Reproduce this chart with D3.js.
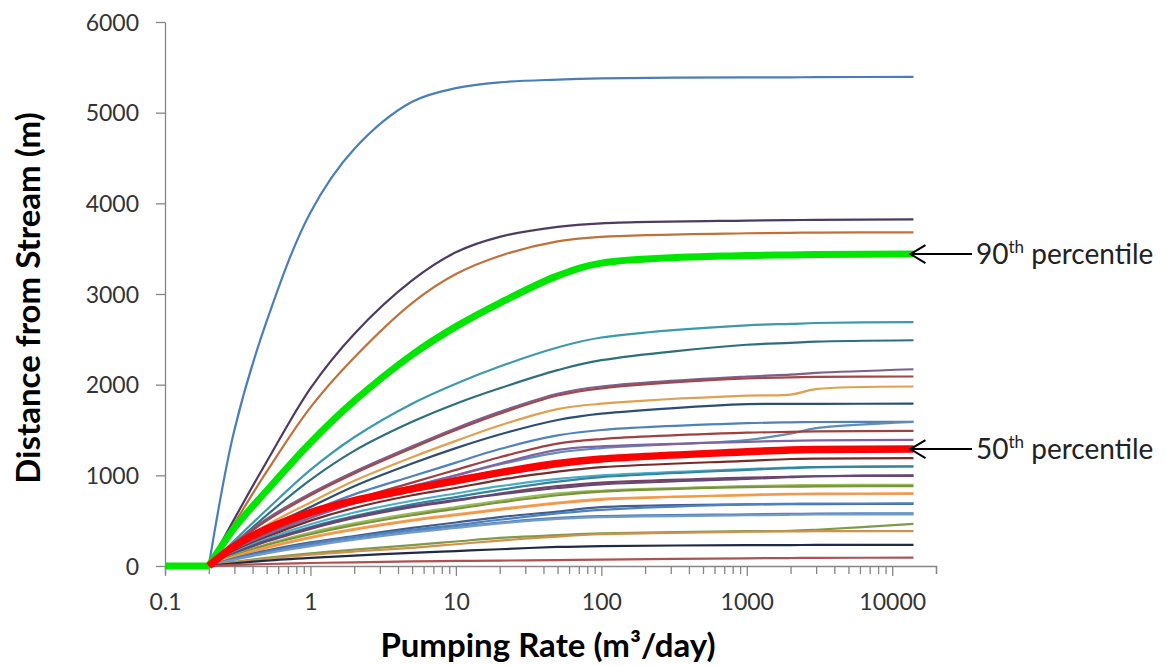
<!DOCTYPE html>
<html>
<head>
<meta charset="utf-8">
<script src="https://cdn.jsdelivr.net/npm/d3@7"></script>
<style>
  html, body { margin: 0; padding: 0; background: #fff; }
  svg { display: block; }
  text { font-family: Lato, "Open Sans", sans-serif; }
</style>
</head>
<body>
<svg id="chart" width="1165" height="666"></svg>
<script>
// ---------- DATA ----------
const pumpingRates = [0.1, 0.2, 0.3, 0.5, 1, 2, 5, 10, 20, 50, 100, 1000, 2000, 3000, 14000];

const s01 = [null, 0, 1500, 2700, 3900, 4600, 5120, 5270, 5335, 5365, 5378, 5390, 5390, 5392, 5395];
const s02 = [null, 0, 520, 1150, 1960, 2560, 3150, 3460, 3630, 3740, 3780, 3810, 3815, 3818, 3822];
const s03 = [null, 0, 470, 1040, 1750, 2300, 2900, 3220, 3420, 3580, 3630, 3670, 3675, 3678, 3680];
const s04 = [null, 0, 280, 620, 1060, 1420, 1790, 2010, 2200, 2410, 2520, 2655, 2670, 2680, 2690];
const s05 = [null, 0, 250, 560, 950, 1270, 1590, 1790, 1960, 2160, 2270, 2440, 2460, 2475, 2490];
const s06 = [null, 0, 250, 520, 800, 1040, 1320, 1520, 1700, 1900, 1980, 2090, 2110, 2130, 2170];
const s07 = [null, 0, 240, 500, 780, 1020, 1300, 1500, 1680, 1880, 1960, 2070, 2080, 2085, 2090];
const s08 = [null, 0, 210, 450, 700, 940, 1200, 1380, 1550, 1730, 1790, 1880, 1890, 1950, 1980];
const s09 = [null, 0, 200, 420, 650, 880, 1130, 1300, 1450, 1610, 1680, 1785, 1788, 1789, 1790];
const s10 = [null, 0, 190, 380, 600, 790, 990, 1140, 1290, 1440, 1500, 1575, 1585, 1588, 1590];
const s11 = [null, 0, 170, 340, 540, 700, 880, 1000, 1120, 1250, 1300, 1390, 1460, 1520, 1590];
const s12 = [null, 0, 180, 360, 560, 730, 920, 1060, 1200, 1350, 1400, 1470, 1480, 1485, 1490];
const s13 = [null, 0, 170, 340, 530, 690, 870, 1000, 1130, 1280, 1320, 1370, 1380, 1385, 1390];
const s14 = [null, 0, 160, 320, 500, 640, 780, 860, 950, 1040, 1090, 1160, 1180, 1185, 1190];
const s15 = [null, 0, 150, 300, 460, 590, 720, 800, 880, 960, 1000, 1070, 1085, 1090, 1095];
const s16 = [null, 0, 140, 280, 430, 550, 680, 760, 840, 930, 980, 1060, 1080, 1090, 1100];
const s17 = [null, 0, 135, 270, 410, 530, 650, 720, 800, 880, 920, 975, 985, 990, 995];
const s18 = [null, 0, 140, 280, 420, 540, 660, 730, 790, 860, 900, 960, 980, 990, 1000];
const s19 = [null, 0, 120, 240, 370, 470, 580, 650, 720, 800, 830, 880, 890, 893, 895];
const s20 = [null, 0, 115, 230, 350, 450, 560, 630, 700, 780, 820, 870, 875, 878, 880];
const s21 = [null, 0, 105, 210, 320, 410, 510, 570, 630, 700, 740, 780, 790, 793, 795];
const s22 = [null, 0, 100, 200, 310, 400, 500, 560, 620, 690, 730, 785, 795, 798, 800];
const s23 = [null, 0, 85, 170, 260, 330, 420, 480, 540, 600, 650, 680, 682, 683, 685];
const s24 = [null, 0, 80, 160, 250, 320, 400, 450, 510, 580, 620, 680, 686, 688, 690];
const s25 = [null, 0, 75, 150, 230, 300, 380, 430, 480, 530, 550, 570, 575, 578, 580];
const s26 = [null, 0, 70, 140, 220, 290, 370, 420, 470, 520, 540, 560, 565, 568, 570];
const s27 = [null, 0, 45, 90, 140, 180, 230, 270, 310, 340, 360, 385, 388, 400, 465];
const s28 = [null, 0, 40, 80, 125, 160, 200, 240, 280, 325, 350, 378, 382, 384, 385];
const s29 = [null, 0, 30, 60, 90, 115, 145, 165, 185, 210, 220, 230, 231, 232, 232];
const s30 = [null, 0, 12, 22, 33, 40, 50, 56, 60, 65, 70, 85, 88, 90, 92];
const percentile90 = [0, 0, 420, 830, 1360, 1820, 2330, 2640, 2900, 3200, 3340, 3425, 3430, 3435, 3440];
const percentile50 = [null, 0, 220, 410, 590, 720, 850, 940, 1030, 1130, 1180, 1260, 1280, 1285, 1290];

const thinSeries = [s01, s02, s03, s04, s05, s06, s07, s08, s09, s10, s11, s12, s13, s14, s15,
                    s16, s17, s18, s19, s20, s21, s22, s23, s24, s25, s26, s27, s28, s29, s30];
const thinColors = ["#4A7EBB", "#4D3B62", "#C0703A", "#3C9AAA", "#2E6F7C", "#7B5F8E", "#A0484A",
                    "#E0A050", "#2C4D75", "#4F81BD", "#5B8FB5", "#A04040", "#8064A2", "#772C2A",
                    "#4BACC6", "#31859C", "#7A4064", "#604A7B", "#9BBB59", "#77933C", "#F0A860",
                    "#F79646", "#3D5F8F", "#4F81BD", "#4F81BD", "#729ACA", "#7F9A48", "#D09050",
                    "#1F2A44", "#B05050"];

const yTicks = [0, 1000, 2000, 3000, 4000, 5000, 6000];
const xTickLabels = [0.1, 1, 10, 100, 1000, 10000];
const annotations = [
  { value: 3440, ordinal: "90", suffix: "th", label: " percentile" },
  { value: 1290, ordinal: "50", suffix: "th", label: " percentile" }
];

// ---------- LAYOUT ----------
const svg = d3.select("#chart");
const x = d3.scaleLog().domain([0.1, 20000]).range([165, 936]);
const y = d3.scaleLinear().domain([0, 6000]).range([566, 22]);
const axisColor = "#868686";
const textColor = "#333333";

// minor/major x ticks
const xAllTicks = [];
for (let e = -1; e <= 4; e++) {
  for (let m = 1; m <= 9; m++) {
    const v = m * Math.pow(10, e);
    if (v <= 20000 + 1e-9) xAllTicks.push(+v.toPrecision(6));
  }
}

const gx = svg.append("g").attr("transform", `translate(0,${y(0)})`);
const xAxis = d3.axisBottom(x)
  .tickValues(xAllTicks)
  .tickSizeOuter(0)
  .tickSize(8)
  .tickFormat(d => xTickLabels.includes(d) ? d3.format("")(d) : "");
gx.call(xAxis);
gx.select(".domain").attr("stroke", axisColor).attr("stroke-width", 1.3);
gx.selectAll(".tick line").attr("stroke", axisColor).attr("stroke-width", 1.3)
  .attr("y2", d => xTickLabels.includes(d) ? 10 : 8);
gx.selectAll(".tick text").attr("fill", textColor).attr("font-size", 23)
  .attr("font-family", "Lato, sans-serif").attr("dy", "1.45em");

const gy = svg.append("g").attr("transform", `translate(${x(0.1)},0)`);
gy.call(d3.axisLeft(y).tickValues(yTicks).tickSize(9).tickSizeOuter(0).tickFormat(d3.format("")));
gy.select(".domain").attr("stroke", axisColor).attr("stroke-width", 1.3);
gy.selectAll(".tick line").attr("stroke", axisColor).attr("stroke-width", 1.3);
gy.selectAll(".tick text").attr("fill", textColor).attr("font-size", 23)
  .attr("font-family", "Lato, sans-serif").attr("x", -26).attr("dy", "0.35em");

// ---------- LINES ----------
const toPairs = vals => pumpingRates.map((r, i) => [r, vals[i]]).filter(p => p[1] != null);
const line = d3.line()
  .x(p => x(p[0]))
  .y(p => y(p[1]))
  .curve(d3.curveCatmullRom.alpha(0.5));

const lineLayer = svg.append("g");
thinSeries.forEach((vals, i) => {
  lineLayer.append("path")
    .attr("d", line(toPairs(vals)))
    .attr("fill", "none")
    .attr("stroke", thinColors[i])
    .attr("stroke-width", 2.2)
    .attr("stroke-linejoin", "round");
});
// 90th percentile: flat lead-in, then the curve from 0.2 onward
const p90 = toPairs(percentile90);
lineLayer.append("path").attr("d", d3.line().x(p => x(p[0])).y(p => y(p[1]))(p90.slice(0, 2)))
  .attr("fill", "none").attr("stroke", "#00E600").attr("stroke-width", 7);
lineLayer.append("path").attr("d", line(p90.slice(1)))
  .attr("fill", "none").attr("stroke", "#00E600").attr("stroke-width", 7);
lineLayer.append("path").attr("d", line(toPairs(percentile50)))
  .attr("fill", "none").attr("stroke", "#FF0000").attr("stroke-width", 7.5);

// ---------- ANNOTATIONS ----------
annotations.forEach(a => {
  const yy = y(a.value);
  const tipX = x(14000) - 3;
  const g = svg.append("g");
  g.append("line").attr("x1", tipX).attr("x2", 972).attr("y1", yy).attr("y2", yy)
    .attr("stroke", "#000").attr("stroke-width", 2);
  g.append("path")
    .attr("d", `M${tipX + 15},${yy - 9} L${tipX},${yy} L${tipX + 15},${yy + 9}`)
    .attr("fill", "none").attr("stroke", "#000").attr("stroke-width", 2);
  const t = g.append("text").attr("x", 976).attr("y", yy + 10)
    .attr("font-size", 28).attr("fill", "#222");
  t.append("tspan").text(a.ordinal);
  t.append("tspan").text(a.suffix).attr("font-size", 17).attr("dy", -11);
  t.append("tspan").text(a.label).attr("dy", 11);
});

// ---------- AXIS TITLES ----------
svg.append("text")
  .attr("transform", `translate(40,${(y(0) + y(6000)) / 2 + 4}) rotate(-90)`)
  .attr("text-anchor", "middle")
  .attr("font-size", 33).attr("font-weight", "bold").attr("fill", "#000")
  .text("Distance from Stream (m)");

svg.append("text")
  .attr("x", 548).attr("y", 657)
  .attr("text-anchor", "middle")
  .attr("font-size", 33).attr("font-weight", "bold").attr("fill", "#000")
  .text("Pumping Rate (m³/day)");
</script>
</body>
</html>
